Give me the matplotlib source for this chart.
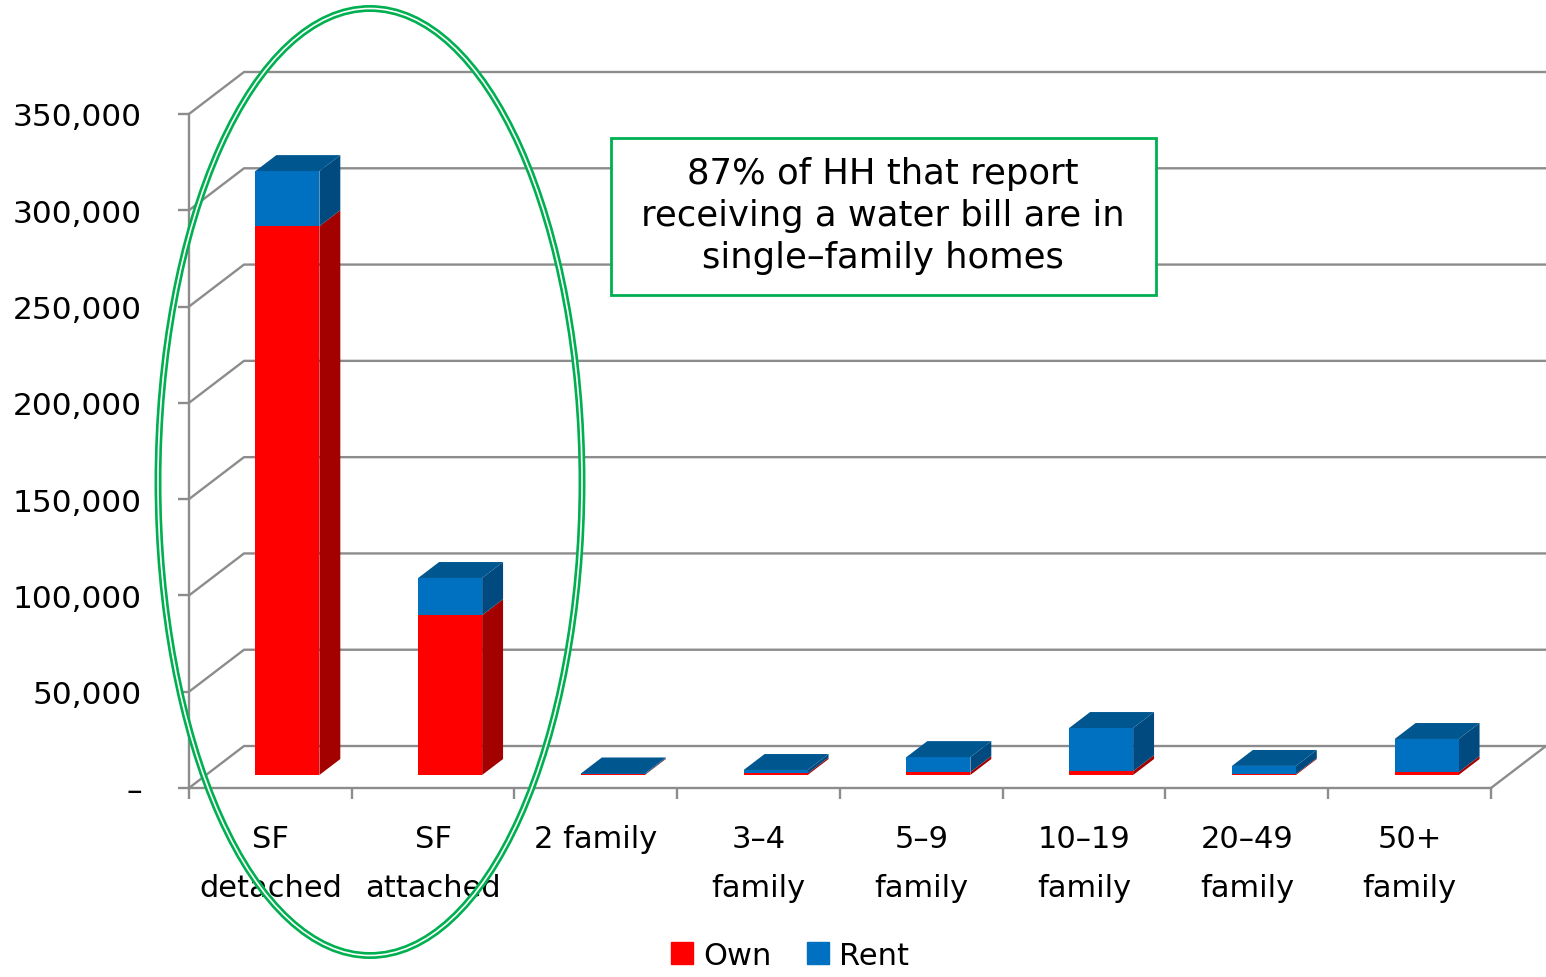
import matplotlib
matplotlib.use('Agg')
import matplotlib.pyplot as plt
from matplotlib.patches import Ellipse, Rectangle, Patch

# data (households)
categories = ['SF\ndetached', 'SF\nattached', '2 family', '3–4\nfamily', '5–9\nfamily',
              '10–19\nfamily', '20–49\nfamily', '50+\nfamily']
own = [285000, 83000, 300, 800, 1500, 2000, 500, 1500]
rent = [28600, 19300, 500, 1800, 7800, 22400, 4200, 17200]
yticks = [0, 50000, 100000, 150000, 200000, 250000, 300000, 350000]
ylabels = ['–', '50,000', '100,000', '150,000', '200,000', '250,000', '300,000', '350,000']

W, H = 1546, 978
fig = plt.figure(figsize=(W / 100, H / 100), dpi=100)
ax = fig.add_axes([189 / W, (H - 789) / H, (W - 189) / W, (789 - 73) / H])

n = len(categories)
DX = 0.338          # depth offset in category units
DY = 21800          # depth offset in value units
ax.set_xlim(0, n + DX)
ax.set_ylim(0, 350000 + DY)

grid = '#8c8c8c'
# back wall + side wall gridlines
for v in yticks:
    ax.plot([0, DX, n + DX], [v, v + DY, v + DY], color=grid, lw=1.7, clip_on=False, zorder=1)
ax.plot([n, n + DX], [0, DY], color=grid, lw=1.7, clip_on=False, zorder=1)

# bars
d0, d1 = 0.31, 0.69
bw = 0.393
cols = {'own': ('#FF0000', '#A30000', '#C00000'),
        'rent': ('#0070C0', '#004A80', '#00578F')}


def pt(x, y, d):
    return x + d * DX, y + d * DY


for i in range(n):
    base = 0
    segs = [('own', own[i]), ('rent', rent[i])]
    for k, (name, val) in enumerate(segs):
        front, side, top = cols[name]
        x0 = i + 0.5 - bw / 2
        x1 = i + 0.5 + bw / 2
        y0, y1 = base, base + val
        # side face
        p = [pt(x1, y0, d0), pt(x1, y0, d1), pt(x1, y1, d1), pt(x1, y1, d0)]
        ax.fill([q[0] for q in p], [q[1] for q in p], color=side, lw=0, zorder=3)
        # front face
        p = [pt(x0, y0, d0), pt(x1, y0, d0), pt(x1, y1, d0), pt(x0, y1, d0)]
        ax.fill([q[0] for q in p], [q[1] for q in p], color=front, lw=0, zorder=3)
        if k == len(segs) - 1:
            p = [pt(x0, y1, d0), pt(x1, y1, d0), pt(x1, y1, d1), pt(x0, y1, d1)]
            ax.fill([q[0] for q in p], [q[1] for q in p], color=top, lw=0, zorder=3)
        base = y1

# axes styling
for s in ['top', 'right']:
    ax.spines[s].set_visible(False)
ax.spines['left'].set_bounds(0, 350000)
ax.spines['bottom'].set_bounds(0, n)
for s in ['left', 'bottom']:
    ax.spines[s].set_color(grid)
    ax.spines[s].set_linewidth(1.7)

ax.set_yticks(yticks)
ax.set_yticklabels(ylabels)
ax.tick_params(axis='y', length=8, width=1.7, color=grid, pad=26, labelsize=22.5)
ax.set_xticks(range(n + 1))
ax.set_xticklabels([])
ax.tick_params(axis='x', which='major', length=8, width=1.7, color=grid)
ax.set_xticks([i + 0.5 for i in range(n)], minor=True)
ax.set_xticklabels(categories, minor=True, fontsize=22, linespacing=1.85)
ax.tick_params(axis='x', which='minor', length=0, pad=26)

# legend
handles = [Patch(color='#FF0000', label='Own'), Patch(color='#0070C0', label='Rent')]
fig.legend(handles=handles, loc='upper center', bbox_to_anchor=(790 / W, 1 - 939 / H), ncol=2,
           frameon=False, fontsize=22, handlelength=0.72, handleheight=0.72,
           handletextpad=0.35, columnspacing=1.15, borderaxespad=0, borderpad=0.1)

# callout ellipse around single-family bars
green = '#00B050'
fig.add_artist(Ellipse((370 / W, 1 - 483 / H), 424 / W, 947 / H, transform=fig.transFigure,
                       fill=False, ec=green, lw=5, zorder=6))
fig.add_artist(Ellipse((370 / W, 1 - 483 / H), 424 / W, 947 / H, transform=fig.transFigure,
                       fill=False, ec='white', lw=1.2, zorder=7))

# text box
fig.add_artist(Rectangle((611 / W, (H - 296) / H), 545 / W, 157 / H, transform=fig.transFigure,
                         fc='white', ec=green, lw=2, zorder=8))
fig.text(883 / W, 1 - 216 / H, '87% of HH that report\nreceiving a water bill are in\nsingle–family homes',
         ha='center', va='center', fontsize=25.5, linespacing=1.3, zorder=9)

fig.savefig('out.png', dpi=100)
